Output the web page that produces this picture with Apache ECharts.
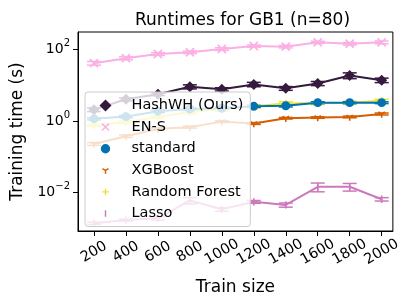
<!DOCTYPE html>
<html><head><meta charset="utf-8">
<script src="https://cdn.jsdelivr.net/npm/echarts@6/dist/echarts.min.js"></script>
<style>html,body{margin:0;padding:0;background:#fff}#c{width:404px;height:301px}</style>
</head><body><div id="c"></div>
<script>
const trainSizes = [200, 400, 600, 800, 1000, 1200, 1400, 1600, 1800, 2000];
const hashwh = [2.1, 4.1, 5.7, 9.2, 7.8, 10.7, 8.3, 11.4, 19, 14];
const hashwhErr = [0.25, 0.4, 0.5, 1.2, 0.8, 1.5, 1.0, 1.5, 3.5, 2.0];
const ens = [42, 58, 76, 85, 105, 127, 122, 161, 147, 161];
const ensErr = [5, 6, 7, 7, 9, 9, 10, 12, 12, 15];
const standard = [1.16, 1.34, 1.9, 2.2, 2.3, 2.6, 2.7, 3.3, 3.3, 3.3];
const standardErr = [0.08, 0.1, 0.15, 0.15, 0.15, 0.15, 0.2, 0.2, 0.2, 0.2];
const xgboost = [0.23, 0.38, 0.61, 0.68, 0.97, 0.86, 1.21, 1.26, 1.31, 1.59];
const xgboostErr = [0.02, 0.03, 0.04, 0.04, 0.05, 0.05, 0.06, 0.06, 0.07, 0.1];
const randomForest = [0.76, 0.94, 1.3, 1.8, 2.2, 2.6, 3.1, 3.2, 3.3, 3.7];
const randomForestErr = [0.05, 0.08, 0.1, 0.2, 0.3, 0.3, 0.4, 0.3, 0.3, 0.4];
const lasso = [0.00138, 0.0017, 0.0019, 0.006, 0.0034, 0.0055, 0.0045, 0.0145, 0.0145, 0.0065];
const lassoErr = [0.0001, 0.0001, 0.0002, 0.0012, 0.0004, 0.0005, 0.0006, 0.004, 0.0035, 0.0007];
const yTickValues = [0.01, 1, 100];
const yTickExponents = ['\u22122', '0', '2'];
const legendNames = ['HashWH (Ours)', 'EN-S', 'standard', 'XGBoost', 'Random Forest', 'Lasso'];

function bar(x1, y1, x2, y2, t) {
  const dx = x2 - x1, dy = y2 - y1, L = Math.hypot(dx, dy);
  const nx = -dy / L * t / 2, ny = dx / L * t / 2;
  const f = v => v.toFixed(3);
  return 'M' + f(x1 + nx) + ',' + f(y1 + ny) + ' L' + f(x2 + nx) + ',' + f(y2 + ny) +
    ' L' + f(x2 - nx) + ',' + f(y2 - ny) + ' L' + f(x1 - nx) + ',' + f(y1 - ny) + ' Z ';
}
const anchors = 'M0,0 Z M10,10 Z ';
const S = {
  diamond: 'path://M5,0 L10,5 L5,10 L0,5 Z',
  cross: 'path://' + anchors + bar(2.1, 2.1, 7.9, 7.9, 1.2) + bar(2.1, 7.9, 7.9, 2.1, 1.2),
  circle: 'path://' + anchors + 'M8.9,5 A3.9,3.9 0 1,1 1.1,5 A3.9,3.9 0 1,1 8.9,5 Z',
  tri: 'path://' + anchors + bar(5, 5, 5, 7.9, 1.25) + bar(5, 5, 2.5, 3.55, 1.25) + bar(5, 5, 7.5, 3.55, 1.25),
  plus: 'path://' + anchors + bar(5, 2.3, 5, 7.7, 1.2) + bar(2.3, 5, 7.7, 5, 1.2),
  vline: 'path://' + anchors + bar(5, 2.2, 5, 7.8, 1.2)
};

const defs = [
  {name: legendNames[0], vals: hashwh, errs: hashwhErr, color: '#35193e', sym: S.diamond, size: 11},
  {name: legendNames[1], vals: ens, errs: ensErr, color: '#fbafe4', sym: S.cross, size: 14},
  {name: legendNames[4], vals: randomForest, errs: randomForestErr, color: '#ece133', sym: S.plus, size: 14},
  {name: legendNames[2], vals: standard, errs: standardErr, color: '#0173b2', sym: S.circle, size: 11.5},
  {name: legendNames[3], vals: xgboost, errs: xgboostErr, color: '#d55e00', sym: S.tri, size: 13},
  {name: legendNames[5], vals: lasso, errs: lassoErr, color: '#cc78bc', sym: S.vline, size: 13}
];
const legendIcons = {};
defs.forEach(d => { legendIcons[d.name] = d.sym; });

const series = [];
defs.forEach(d => {
  const color = d.color;
  series.push({
    type: 'custom', name: d.name + ' err',
    data: trainSizes.map((x, i) => [x, d.vals[i] - d.errs[i], d.vals[i] + d.errs[i]]),
    encode: {x: 0, y: [1, 2]},
    renderItem: function (params, api) {
      const x = api.value(0);
      const lo = api.coord([x, api.value(1)]);
      const hi = api.coord([x, api.value(2)]);
      const cw = 7;
      const st = {stroke: color, lineWidth: 1.5};
      return {type: 'group', children: [
        {type: 'line', shape: {x1: lo[0], y1: lo[1], x2: hi[0], y2: hi[1]}, style: st},
        {type: 'line', shape: {x1: lo[0] - cw, y1: lo[1], x2: lo[0] + cw, y2: lo[1]}, style: st},
        {type: 'line', shape: {x1: hi[0] - cw, y1: hi[1], x2: hi[0] + cw, y2: hi[1]}, style: st}
      ]};
    },
    silent: true, animation: false
  });
  series.push({
    type: 'line', name: d.name,
    data: trainSizes.map((x, i) => [x, d.vals[i]]),
    symbol: d.sym, symbolSize: d.size, symbolKeepAspect: true, showAllSymbol: true,
    lineStyle: {color: color, width: 2},
    itemStyle: {color: color, borderWidth: 0},
    emphasis: {disabled: true},
    animation: false
  });
});

const chart = echarts.init(document.getElementById('c'), null, {renderer: 'canvas'});
const FONT = 'DejaVu Sans';
chart.setOption({
  backgroundColor: '#fff',
  textStyle: {fontFamily: FONT},
  title: {
    text: 'Runtimes for GB1 (n=80)', left: 237.5, textAlign: 'center', top: 7,
    textStyle: {fontFamily: FONT, fontSize: 17, fontWeight: 'normal', color: '#000'}
  },
  grid: {left: 78, right: 7, top: 32, bottom: 67, show: true, borderColor: '#000', borderWidth: 1, backgroundColor: 'transparent'},
  xAxis: {
    type: 'value', min: 100, max: 2070,
    name: 'Train size', nameLocation: 'middle', nameGap: 48,
    nameTextStyle: {fontFamily: FONT, fontSize: 17, color: '#000'},
    axisLine: {lineStyle: {color: '#000', width: 1}},
    axisTick: {customValues: trainSizes, length: 5, lineStyle: {color: '#000'}},
    axisLabel: {customValues: trainSizes, rotate: 30, align: 'center', verticalAlign: 'middle', margin: 21,
      fontFamily: FONT, fontSize: 14.5, color: '#000', formatter: v => String(v)},
    splitLine: {show: false}
  },
  yAxis: {
    type: 'log', logBase: 10, min: 0.000839, max: 313.8,
    name: 'Training time (s)', nameLocation: 'middle', nameGap: 52,
    nameTextStyle: {fontFamily: FONT, fontSize: 17, color: '#000'},
    axisLine: {show: true, lineStyle: {color: '#000', width: 1}},
    axisTick: {show: true, customValues: yTickValues, length: 5, lineStyle: {color: '#000'}},
    axisLabel: {customValues: yTickValues, margin: 8, fontFamily: FONT, fontSize: 14, color: '#000',
      formatter: function (v) {
        const e = Math.log10(v);
        let best = 0;
        yTickValues.forEach((t, i) => { if (Math.abs(Math.log10(t) - e) < Math.abs(Math.log10(yTickValues[best]) - e)) best = i; });
        return '{b|10}{e|' + yTickExponents[best] + '}';
      },
      rich: {
        b: {fontFamily: FONT, fontSize: 14, lineHeight: 14, padding: [6, 0, 6, 0], color: '#000'},
        e: {fontFamily: FONT, fontSize: 10, lineHeight: 10, padding: [0, 0, 12, 0], color: '#000'}
      }},
    splitLine: {show: false}, minorTick: {show: false}
  },
  legend: {
    data: legendNames.map(n => ({name: n, icon: legendIcons[n]})),
    orient: 'vertical', left: 85, top: 92,
    itemWidth: 14, itemHeight: 12, itemGap: 5.6,
    padding: [5.5, 7, 5, 14.5],
    backgroundColor: 'rgba(255,255,255,0.8)', borderColor: '#cccccc', borderWidth: 1, borderRadius: 3,
    itemStyle: {borderWidth: 0},
    selectedMode: false,
    formatter: n => '{s| }' + n,
    textStyle: {fontFamily: FONT, fontSize: 14.5, color: '#000', lineHeight: 16, rich: {s: {width: 14, fontSize: 14.5, lineHeight: 16}}}
  },
  series: series
});
</script></body></html>
